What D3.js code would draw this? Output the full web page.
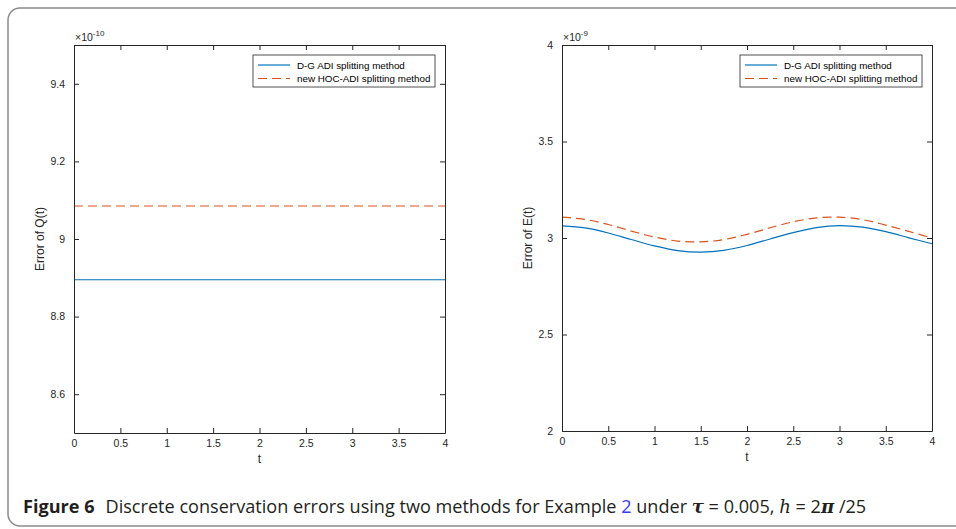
<!DOCTYPE html>
<html>
<head>
<meta charset="utf-8">
<script src="https://cdn.jsdelivr.net/npm/d3@7"></script>
<style>
  body { margin: 0; background: #fff; }
  svg { display: block; }
  .tick text { font-family: "Liberation Sans", Arial, sans-serif; font-size: 10.5px; fill: #262626; }
</style>
</head>
<body>
<svg id="chart" width="956" height="529"></svg>
<script>
// values
const seriesNames = ["D-G ADI splitting method", "new HOC-ADI splitting method"];
const tQ = [0, 0.5, 1, 1.5, 2, 2.5, 3, 3.5, 4];
const dgQ = [8.895, 8.895, 8.895, 8.895, 8.895, 8.895, 8.895, 8.895, 8.895];
const hocQ = [9.085, 9.085, 9.085, 9.085, 9.085, 9.085, 9.085, 9.085, 9.085];

const tE = [0, 0.25, 0.5, 0.75, 1, 1.25, 1.5, 1.75, 2, 2.25, 2.5, 2.75, 3, 3.25, 3.5, 3.75, 4];
const dgE = [3.063, 3.052, 3.026, 2.992, 2.959, 2.935, 2.927, 2.936, 2.961, 2.995, 3.028, 3.054, 3.064, 3.056, 3.033, 3.001, 2.970];
const hocE = [3.108, 3.096, 3.070, 3.036, 3.005, 2.984, 2.980, 2.992, 3.019, 3.053, 3.084, 3.104, 3.108, 3.095, 3.067, 3.034, 3.000];

const xTicks = [0, 0.5, 1, 1.5, 2, 2.5, 3, 3.5, 4];
const yTicksQ = [8.6, 8.8, 9, 9.2, 9.4];
const yTicksE = [2, 2.5, 3, 3.5, 4];

const colors = ["#0072BD", "#D95319"];
const axisColor = "#262626";
const svg = d3.select("#chart");

// outer frame
svg.append("rect")
  .attr("x", 8).attr("y", 8)
  .attr("width", 1000).attr("height", 518)
  .attr("rx", 12)
  .attr("fill", "none")
  .attr("stroke", "#8a8a8a")
  .attr("stroke-width", 1.5);

function drawPanel(opts) {
  const x = d3.scaleLinear().domain([0, 4]).range([opts.left, opts.right]);
  const y = d3.scaleLinear().domain(opts.yDomain).range([opts.bottom, opts.top]);
  const g = svg.append("g");

  const line = d3.line()
    .x(d => x(d[0]))
    .y(d => y(d[1]))
    .curve(d3.curveCatmullRom);

  // data lines
  opts.series.forEach((s, i) => {
    g.append("path")
      .datum(opts.t.map((t, j) => [t, s[j]]))
      .attr("fill", "none")
      .attr("stroke", colors[i])
      .attr("stroke-width", 1.2)
      .attr("stroke-dasharray", i === 1 ? "9,5" : null)
      .attr("d", line);
  });

  // axes (ticks pointing inward, MATLAB box)
  const bottomAxis = d3.axisBottom(x).tickValues(xTicks).tickSizeInner(-5).tickSizeOuter(0).tickPadding(7).tickFormat(d3.format("~g"));
  const topAxis = d3.axisTop(x).tickValues(xTicks).tickSizeInner(-5).tickSizeOuter(0).tickFormat("");
  const leftAxis = d3.axisLeft(y).tickValues(opts.yTicks).tickSizeInner(-5).tickSizeOuter(0).tickPadding(9).tickFormat(d3.format("~g"));
  const rightAxis = d3.axisRight(y).tickValues(opts.yTicks).tickSizeInner(-5).tickSizeOuter(0).tickFormat("");

  const axes = [
    g.append("g").attr("transform", `translate(0,${opts.bottom})`).call(bottomAxis),
    g.append("g").attr("transform", `translate(0,${opts.top})`).call(topAxis),
    g.append("g").attr("transform", `translate(${opts.left},0)`).call(leftAxis),
    g.append("g").attr("transform", `translate(${opts.right},0)`).call(rightAxis)
  ];
  axes.forEach(a => {
    a.selectAll("path, line").attr("stroke", axisColor);
    a.select(".domain").attr("stroke-width", 1);
  });

  // exponent label
  const ex = g.append("text")
    .attr("x", opts.left + 1).attr("y", opts.top - 4)
    .attr("font-family", "Liberation Sans, Arial, sans-serif")
    .attr("font-size", 10.5).attr("fill", axisColor);
  ex.append("tspan").text("\u00d710");
  ex.append("tspan").attr("dy", -5).attr("font-size", 8).text(opts.exponent);

  // axis titles
  g.append("text")
    .attr("x", (opts.left + opts.right) / 2).attr("y", opts.bottom + 30)
    .attr("text-anchor", "middle")
    .attr("font-family", "Liberation Sans, Arial, sans-serif")
    .attr("font-size", 12).attr("fill", axisColor)
    .text("t");
  g.append("text")
    .attr("transform", `translate(${opts.left - 30},${(opts.top + opts.bottom) / 2}) rotate(-90)`)
    .attr("text-anchor", "middle")
    .attr("font-family", "Liberation Sans, Arial, sans-serif")
    .attr("font-size", 12).attr("fill", axisColor)
    .text(opts.yLabel);

  // legend
  const lg = g.append("g").attr("transform", `translate(${opts.right - 192},${opts.top + 10})`);
  lg.append("rect")
    .attr("width", 182).attr("height", 32)
    .attr("fill", "#fff").attr("stroke", axisColor).attr("stroke-width", 0.8);
  seriesNames.forEach((name, i) => {
    const yy = 10 + i * 13.5;
    lg.append("line")
      .attr("x1", 5).attr("x2", 37).attr("y1", yy).attr("y2", yy)
      .attr("stroke", colors[i]).attr("stroke-width", 1.2)
      .attr("stroke-dasharray", i === 1 ? "9,5" : null);
    lg.append("text")
      .attr("x", 44).attr("y", yy + 3.5)
      .attr("font-family", "Liberation Sans, Arial, sans-serif")
      .attr("font-size", 9.8).attr("fill", "#000")
      .text(name);
  });
}

drawPanel({
  left: 74, right: 445, top: 45, bottom: 433,
  yDomain: [8.5, 9.5], yTicks: yTicksQ, exponent: "-10",
  yLabel: "Error of Q(t)", t: tQ, series: [dgQ, hocQ]
});

drawPanel({
  left: 562, right: 932, top: 45, bottom: 431,
  yDomain: [2, 4], yTicks: yTicksE, exponent: "-9",
  yLabel: "Error of E(t)", t: tE, series: [dgE, hocE]
});

// caption
const cap = svg.append("text")
  .attr("x", 23).attr("y", 513)
  .attr("font-family", "Open Sans, Noto Sans, sans-serif")
  .attr("font-size", 18.1).attr("fill", "#231f20");
cap.append("tspan").attr("font-weight", "bold").text("Figure 6");
cap.append("tspan").attr("dx", 11).text("Discrete conservation errors using two methods for Example ");
cap.append("tspan").attr("fill", "#3b3bff").text("2");
cap.append("tspan").text(" under ");
cap.append("tspan").attr("font-family", "DejaVu Serif, serif").attr("font-style", "italic").attr("font-weight", "bold").text("\u03c4");
cap.append("tspan").text(" = 0.005, ");
cap.append("tspan").attr("font-family", "DejaVu Serif, serif").attr("font-style", "italic").text("h");
cap.append("tspan").text(" = 2");
cap.append("tspan").attr("font-family", "DejaVu Serif, serif").attr("font-style", "italic").attr("font-weight", "bold").text("\u03c0");
cap.append("tspan").text(" /25");
</script>
</body>
</html>
